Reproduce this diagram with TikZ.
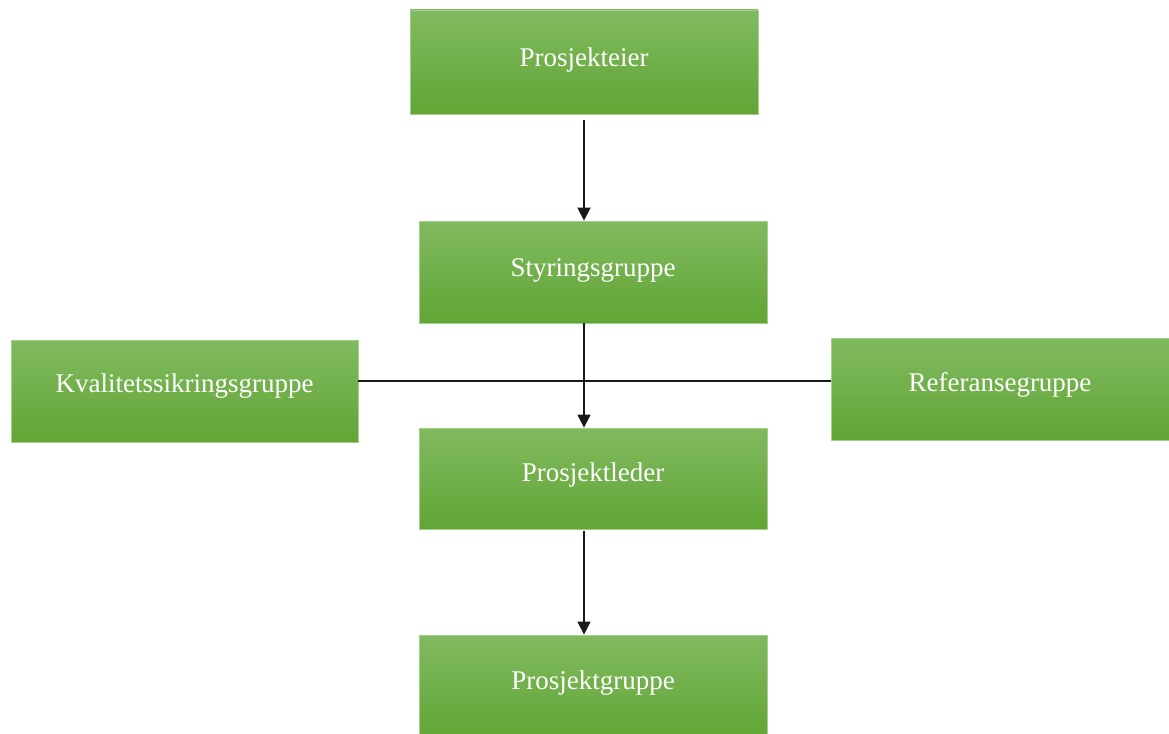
\documentclass[tikz,border=0pt]{standalone}
\usepackage{fontspec}
\setmainfont{Liberation Serif}
\usetikzlibrary{arrows.meta,shadings}
\definecolor{gtop}{HTML}{80BA60}
\definecolor{gbot}{HTML}{62A535}
\definecolor{gedge}{HTML}{A3CF8A}
\tikzset{
  gbox/.style={rectangle, top color=gtop, bottom color=gbot, draw=gedge, line width=0.8pt, inner sep=0pt},
  gtext/.style={text=white, font=\fontsize{27}{30}\selectfont, inner sep=0pt},
  conn/.style={line width=1.6pt, draw=black!90},
  arr/.style={conn, -{Triangle[width=13pt,length=13pt]}}
}
\begin{document}
\begin{tikzpicture}[x=1pt,y=-1pt]
\useasboundingbox (0,0) rectangle (1169,733);
\node[gbox, minimum width=348pt, minimum height=104pt] (pe) at (584,62) {};
\node[gbox, minimum width=348pt, minimum height=102pt] (sg) at (593,272) {};
\node[gbox, minimum width=347pt, minimum height=102pt] (kg) at (184.5,391) {};
\node[gbox, minimum width=338pt, minimum height=102pt] (rg) at (1000,389) {};
\node[gbox, minimum width=348pt, minimum height=101pt] (pl) at (593,478.5) {};
\node[gbox, minimum width=348pt, minimum height=104pt] (pg) at (593,687) {};
\node[gtext] (tpe) at ([yshift=2pt]pe.center) {Prosjekteier};
\node[gtext] (tsg) at ([yshift=2pt]sg.center) {Styringsgruppe};
\node[gtext] (tkg) at ([yshift=5pt]kg.center) {Kvalitetssikringsgruppe};
\node[gtext] (trg) at ([yshift=4pt]rg.center) {Referansegruppe};
\node[gtext] (tpl) at ([yshift=3pt]pl.center) {Prosjektleder};
\node[gtext] (tpg) at ([yshift=4pt]pg.center) {Prosjektgruppe};
\coordinate (spine) at (584,0);
\coordinate (hline) at (0,381);
\draw[arr, shorten <=6pt] (pe.south -| spine) -- (sg.north -| spine);
\draw[arr] (sg.south -| spine) -- (pl.north -| spine);
\draw[arr, shorten <=2pt] (pl.south -| spine) -- (pg.north -| spine);
\draw[conn] (kg.east |- hline) -- (rg.west |- hline);
\end{tikzpicture}
\end{document}
